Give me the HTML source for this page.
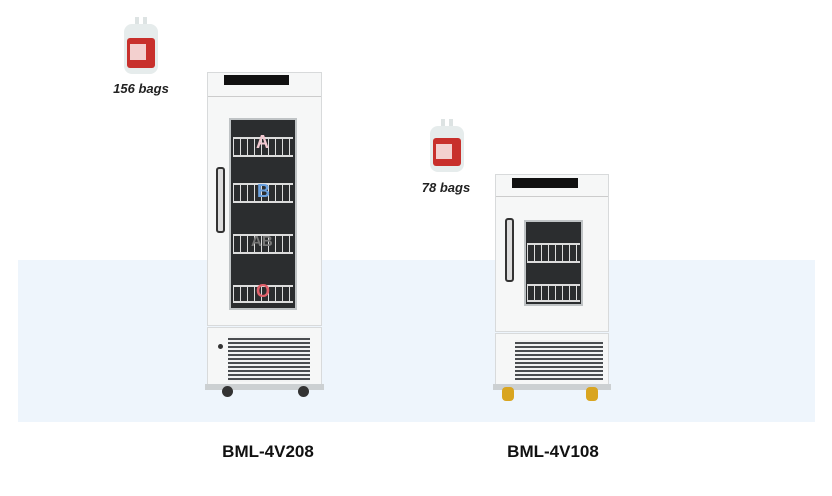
<!DOCTYPE html><html><head><style>
body{margin:0;width:832px;height:496px;background:#fff;position:relative;overflow:hidden;font-family:"Liberation Sans",sans-serif}
.a{position:absolute}
.band{left:18px;top:260px;width:797px;height:162px;background:#eef5fc}
.fr{background:#f6f7f7;border:1px solid #d8dadb;box-sizing:border-box}
.glass{background:#2b2d2f;border:2px solid #bfc3c5;box-sizing:border-box}
.vent{background:repeating-linear-gradient(#f2f3f3 0 2px,#4a4d50 2px 4px);}
.lbl{font-weight:bold;font-size:17px;color:#111;width:200px;text-align:center}
.bags{font-style:italic;font-weight:bold;font-size:13px;color:#222;width:80px;text-align:center}
.shelf{background:repeating-linear-gradient(90deg,#ddd 0 1px,transparent 1px 7px);border-top:2px solid #ddd;border-bottom:2px solid #ddd;box-sizing:border-box}
.let{font-weight:bold;font-size:18px}
</style></head><body>
<div class="a band"></div>

<svg class="a" style="left:120px;top:16px" width="42" height="62"><rect x="15" y="1" width="4" height="8" fill="#dde3e3"/><rect x="23" y="1" width="4" height="8" fill="#dde3e3"/><rect x="4" y="8" width="34" height="50" rx="8" fill="#e6ecec"/><rect x="7" y="22" width="28" height="30" rx="3" fill="#c8302c"/><rect x="10" y="28" width="16" height="16" fill="#f3d0cf"/></svg>
<div class="a bags" style="left:101px;top:81px">156 bags</div>
<svg class="a" style="left:426px;top:118px" width="42" height="56"><rect x="15" y="1" width="4" height="8" fill="#dde3e3"/><rect x="23" y="1" width="4" height="8" fill="#dde3e3"/><rect x="4" y="8" width="34" height="46" rx="8" fill="#e6ecec"/><rect x="7" y="20" width="28" height="28" rx="3" fill="#c8302c"/><rect x="10" y="26" width="16" height="15" fill="#f3d0cf"/></svg>
<div class="a bags" style="left:406px;top:180px">78 bags</div>

<div class="a fr" style="left:207px;top:72px;width:115px;height:254px"></div>
<div class="a" style="left:224px;top:75px;width:65px;height:10px;background:#111"></div>
<div class="a" style="left:208px;top:96px;width:113px;height:1px;background:#ccc"></div>
<div class="a glass" style="left:229px;top:118px;width:68px;height:192px"></div>
<div class="a shelf" style="left:233px;top:137px;width:60px;height:20px"></div>
<div class="a shelf" style="left:233px;top:183px;width:60px;height:20px"></div>
<div class="a shelf" style="left:233px;top:234px;width:60px;height:20px"></div>
<div class="a shelf" style="left:233px;top:285px;width:60px;height:18px"></div>
<div class="a let" style="left:256px;top:132px;color:#f2c8d0">A</div>
<div class="a let" style="left:257px;top:181px;color:#6aa0de">B</div>
<div class="a let" style="left:251px;top:233px;color:#777;font-size:15px">AB</div>
<div class="a let" style="left:256px;top:281px;color:#e0606a">O</div>
<div class="a" style="left:216px;top:167px;width:5px;height:62px;border:2px solid #333;border-radius:3px;background:#ddd"></div>
<div class="a fr" style="left:207px;top:327px;width:115px;height:59px"></div>
<div class="a vent" style="left:228px;top:336px;width:82px;height:46px"></div>
<div class="a" style="left:218px;top:344px;width:5px;height:5px;background:#333;border-radius:50%"></div>
<div class="a" style="left:205px;top:384px;width:119px;height:6px;background:#ccd0d2"></div>
<div class="a" style="left:222px;top:386px;width:11px;height:11px;background:#333;border-radius:50%"></div>
<div class="a" style="left:298px;top:386px;width:11px;height:11px;background:#333;border-radius:50%"></div>

<div class="a fr" style="left:495px;top:174px;width:114px;height:158px"></div>
<div class="a" style="left:512px;top:178px;width:66px;height:10px;background:#111"></div>
<div class="a" style="left:496px;top:196px;width:112px;height:1px;background:#ccc"></div>
<div class="a glass" style="left:524px;top:220px;width:59px;height:86px"></div>
<div class="a shelf" style="left:527px;top:243px;width:53px;height:20px"></div>
<div class="a shelf" style="left:527px;top:284px;width:53px;height:18px"></div>
<div class="a" style="left:505px;top:218px;width:5px;height:60px;border:2px solid #333;border-radius:3px;background:#ddd"></div>
<div class="a fr" style="left:495px;top:333px;width:114px;height:52px"></div>
<div class="a vent" style="left:515px;top:340px;width:88px;height:40px"></div>
<div class="a" style="left:493px;top:384px;width:118px;height:6px;background:#ccd0d2"></div>
<div class="a" style="left:502px;top:387px;width:12px;height:14px;background:#d9a520;border-radius:4px"></div>
<div class="a" style="left:586px;top:387px;width:12px;height:14px;background:#d9a520;border-radius:4px"></div>

<div class="a lbl" style="left:168px;top:442px">BML-4V208</div>
<div class="a lbl" style="left:453px;top:442px">BML-4V108</div>
</body></html>
